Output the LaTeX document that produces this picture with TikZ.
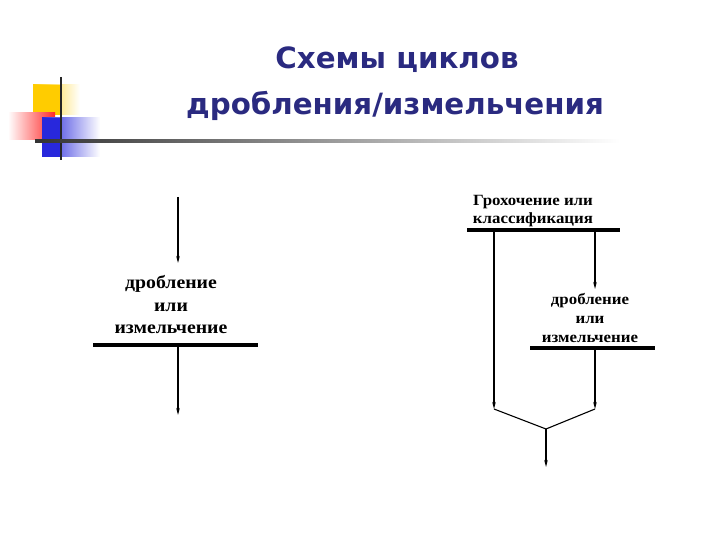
\documentclass[tikz,border=0pt]{standalone}
\usepackage{fontspec}
\setmainfont{Liberation Serif}[FakeStretch=1.08]
\newfontfamily\titlefont{DejaVu Sans}
\usetikzlibrary{arrows.meta}
\definecolor{titleblue}{RGB}{42,42,128}
\definecolor{decyellow}{RGB}{255,204,0}
\definecolor{decred}{RGB}{255,40,40}
\definecolor{decblue}{RGB}{40,40,220}
\tikzset{
  flow/.style={line width=1.1pt, -{Stealth[length=7pt,width=3.5pt]}},
  plain/.style={line width=1.1pt},
  bar/.style={line width=3.5pt},
  lbl/.style={font=\bfseries\fontsize{18.3}{22.5}\selectfont, align=center, inner sep=0pt},
  slbl/.style={font=\bfseries\fontsize{15.6}{19}\selectfont, align=center, inner sep=0pt},
  tlbl/.style={font=\bfseries\fontsize{15.6}{18}\selectfont, align=center, inner sep=0pt},
  ttl/.style={font=\titlefont\bfseries\fontsize{29.3}{45}\selectfont, text=titleblue, align=center, inner sep=0pt}
}
\begin{document}
\begin{tikzpicture}[x=1pt,y=-1pt]
\useasboundingbox (0,0) rectangle (720,540);
% decoration
\shade[left color=decyellow, right color=white] (33,85) rectangle (80,115);
\fill[decyellow] (33,85) rectangle (62,115);
\shade[left color=white, right color=decred] (8,113) rectangle (55,140);
\shade[left color=decblue, right color=white] (42,118) rectangle (100,157);
\fill[decblue] (42,118) rectangle (60,157);
\draw[line width=1.5pt, black!85] (61,77) -- (61,160);
\shade[left color=black!80, right color=white] (35,140) rectangle (620,142.5);
% title
\node[ttl] (t1) at (397,60) {Схемы циклов};
\node[ttl] (t2) at (395,106) {дробления/измельчения};
% left scheme
\coordinate (ltop) at (178,197);
\node[lbl] (lt) at (171,305) {дробление\\или\\измельчение};
\coordinate (lbarl) at (93,345);
\coordinate (lbarr) at (258,345);
\coordinate (lbarm) at (178,345);
\coordinate (lout) at (178,415);
\draw[flow] (ltop) -- (178,263);
\draw[bar] (lbarl) -- (lbarr);
\draw[flow] (lbarm) -- (lout);
% right scheme
\node[tlbl] (rt) at (533,211) {Грохочение или\\классификация};
\coordinate (rbarl) at (467,230);
\coordinate (rbarr) at (620,230);
\draw[bar] (rbarl) -- (rbarr);
\coordinate (rl1) at (494,230);
\coordinate (rl2) at (494,409);
\coordinate (rr1) at (595,230);
\coordinate (rr2) at (595,289);
\draw[flow] (rl1) -- (rl2);
\draw[flow] (rr1) -- (rr2);
\node[slbl] (rm) at (590,318) {дробление\\или\\измельчение};
\coordinate (r2l) at (530,348);
\coordinate (r2r) at (655,348);
\draw[bar] (r2l) -- (r2r);
\coordinate (r2m) at (595,348);
\coordinate (r2e) at (595,409);
\draw[flow] (r2m) -- (r2e);
\coordinate (jl) at (494,409);
\coordinate (jr) at (595,409);
\coordinate (jm) at (546,429);
\coordinate (jout) at (546,467);
\draw[plain, line join=miter] (jl) -- (jm) -- (jr);
\draw[flow] (jm) -- (jout);
\end{tikzpicture}
\end{document}
